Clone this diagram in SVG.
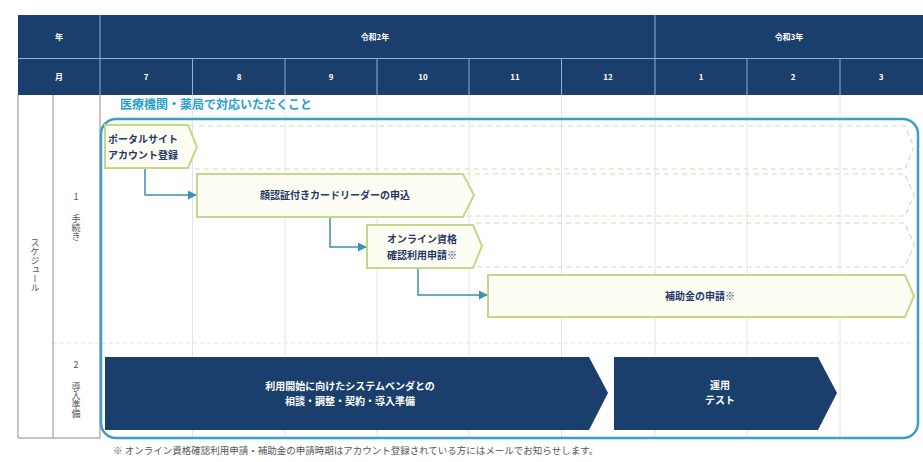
<svg xmlns="http://www.w3.org/2000/svg" width="923" height="462" viewBox="0 0 923 462">
<style>
.hd{fill:#1b3f6d}
.hl{stroke:#8eb3d6;stroke-width:1}
.ht{font-family:"Noto Sans CJK JP","Noto Sans",sans-serif;font-size:8px;font-weight:bold;fill:#ffffff;text-anchor:middle}
.grid{stroke:#e2e4e8;stroke-width:1}
.lb{stroke:#8c8c8c;stroke-width:1;fill:none}
.lt{font-family:"Noto Sans CJK JP","Noto Sans",sans-serif;font-size:9px;fill:#555;text-anchor:middle}
.vt{writing-mode:vertical-rl}
.nd{fill:#fdfdf4;stroke:#c4d88a;stroke-width:2}
.dash{fill:none;stroke:#d3dcb8;stroke-width:1.2;stroke-dasharray:5 4}
.nt{font-family:"Noto Sans CJK JP","Noto Sans",sans-serif;font-size:10px;font-weight:bold;fill:#253766;text-anchor:middle}
.ns{font-family:"Noto Sans CJK JP","Noto Sans",sans-serif;font-size:10px;font-weight:bold;fill:#253766;text-anchor:start}
.dk{fill:#1b3f6d}
.dt{font-family:"Noto Sans CJK JP","Noto Sans",sans-serif;font-size:10px;font-weight:bold;fill:#ffffff;text-anchor:middle}
.cn{fill:none;stroke:#3f8fb3;stroke-width:1.5}
</style>
<defs>
<marker id="ah" viewBox="0 0 10 10" refX="9" refY="5" markerWidth="6" markerHeight="6" orient="auto"><path d="M0,0 L10,5 L0,10 z" fill="#3f8fb3"/></marker>
</defs>
<rect width="923" height="462" fill="#ffffff"/>
<g id="header">
<rect class="hd" x="18" y="15" width="905" height="80"/>
<line class="hl" x1="18" y1="58.5" x2="923" y2="58.5"/>
<line class="hl" x1="100" y1="15" x2="100" y2="95"/>
<line class="hl" x1="655" y1="15" x2="655" y2="95"/>
<line class="hl" x1="192.5" y1="58.5" x2="192.5" y2="95"/>
<line class="hl" x1="285" y1="58.5" x2="285" y2="95"/>
<line class="hl" x1="377" y1="58.5" x2="377" y2="95"/>
<line class="hl" x1="469" y1="58.5" x2="469" y2="95"/>
<line class="hl" x1="561.5" y1="58.5" x2="561.5" y2="95"/>
<line class="hl" x1="747" y1="58.5" x2="747" y2="95"/>
<line class="hl" x1="840" y1="58.5" x2="840" y2="95"/>
<text class="ht" x="59" y="40">年</text>
<text class="ht" x="375" y="40">令和2年</text>
<text class="ht" x="789" y="40">令和3年</text>
<text class="ht" x="59" y="80">月</text>
<text class="ht" x="146" y="80">7</text>
<text class="ht" x="239" y="80">8</text>
<text class="ht" x="331" y="80">9</text>
<text class="ht" x="423" y="80">10</text>
<text class="ht" x="515" y="80">11</text>
<text class="ht" x="608" y="80">12</text>
<text class="ht" x="701" y="80">1</text>
<text class="ht" x="793" y="80">2</text>
<text class="ht" x="881" y="80">3</text>
</g>
<g id="grid">
<line class="grid" x1="192.5" y1="95" x2="192.5" y2="438"/>
<line class="grid" x1="285" y1="95" x2="285" y2="438"/>
<line class="grid" x1="377" y1="95" x2="377" y2="438"/>
<line class="grid" x1="469" y1="95" x2="469" y2="438"/>
<line class="grid" x1="561.5" y1="95" x2="561.5" y2="438"/>
<line class="grid" x1="655" y1="95" x2="655" y2="438"/>
<line class="grid" x1="747" y1="95" x2="747" y2="438"/>
<line class="grid" x1="840" y1="95" x2="840" y2="438"/>
<line x1="53" y1="343" x2="923" y2="343" stroke="#e2e4e8" stroke-width="1" stroke-dasharray="4 3"/>
</g>
<g id="side-labels">
<path class="lb" d="M18,95 V438 H100 V95 M53,95 V438"/>
<text class="lt vt" x="35" y="265" font-size="10">スケジュール</text>
<text class="lt" x="76" y="200">1</text>
<text class="lt vt" x="76" y="228">手続き</text>
<text class="lt" x="76" y="368">2</text>
<text class="lt vt" x="76" y="400">導入準備</text>
</g>
<g id="area">
<text x="120" y="109" font-family="'Noto Sans CJK JP','Noto Sans',sans-serif" font-size="12" font-weight="bold" fill="#2a9fcf">医療機関・薬局で対応いただくこと</text>
<rect x="101" y="119" width="817" height="319" rx="15" ry="15" fill="none" stroke="#3e9dc2" stroke-width="2.5"/>
</g>
<g id="dashed-extents">
<path class="dash" d="M190,126 H905 L914,147 L905,169 H190"/>
<path class="dash" d="M466,174 H905 L914,195 L905,216 H466"/>
<path class="dash" d="M476,223 H905 L914,245 L905,267 H476"/>
</g>
<g id="connectors">
<path class="cn" d="M145,169 V195 H196" marker-end="url(#ah)"/>
<path class="cn" d="M330,217 V247 H366" marker-end="url(#ah)"/>
<path class="cn" d="M418,268 V295 H487" marker-end="url(#ah)"/>
</g>
<g id="node-portal">
<path class="nd" d="M105,125 H188 L197,147 L188,168 H105 Z"/>
<text class="ns" x="108" y="143">ポータルサイト</text>
<text class="ns" x="108" y="159">アカウント登録</text>
</g>
<g id="node-reader">
<path class="nd" d="M197,174 H463 L474,195 L463,217 H197 Z"/>
<text class="nt" x="335" y="199">顔認証付きカードリーダーの申込</text>
</g>
<g id="node-online">
<path class="nd" d="M367,225 H473 L482,246 L473,268 H367 Z"/>
<text class="nt" x="422" y="243">オンライン資格</text>
<text class="nt" x="422" y="259">確認利用申請※</text>
</g>
<g id="node-subsidy">
<path class="nd" d="M488,275 H905 L914,296 L905,317 H488 Z"/>
<text class="nt" x="700" y="300">補助金の申請※</text>
</g>
<g id="node-vendor">
<path class="dk" d="M105,357 H589 L608,393 L589,430 H105 Z"/>
<text class="dt" x="350" y="390">利用開始に向けたシステムベンダとの</text>
<text class="dt" x="350" y="405">相談・調整・契約・導入準備</text>
</g>
<g id="node-test">
<path class="dk" d="M614,357 H818 L837,393 L818,430 H614 Z"/>
<text class="dt" x="720" y="389">運用</text>
<text class="dt" x="720" y="404">テスト</text>
</g>
<text x="113" y="454" font-family="'Noto Sans CJK JP','Noto Sans',sans-serif" font-size="9.5" fill="#555">※  オンライン資格確認利用申請・補助金の申請時期はアカウント登録されている方にはメールでお知らせします。</text>
</svg>
